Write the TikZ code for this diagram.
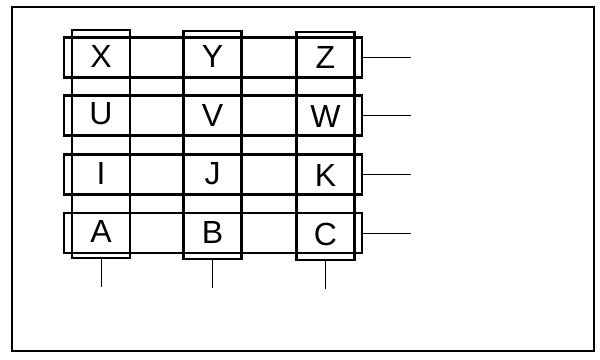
\documentclass[tikz,border=0pt]{standalone}
\usepackage{fontspec}
\setmainfont{Liberation Sans}
\begin{document}
\begin{tikzpicture}[x=0.5pt,y=-0.5pt,
  band/.style={draw, line width=1.1pt, rectangle, inner sep=0pt},
  rowband/.style={band, minimum width=149pt, minimum height=20pt},
  colband/.style={band, minimum width=29pt, minimum height=114pt},
  letter/.style={font=\fontsize{16}{16}\selectfont, inner sep=0pt},
  lead/.style={draw, line width=0.5pt}]
\useasboundingbox (0,0) rectangle (600,359);
\draw[line width=1pt] (12,7) rectangle (594,351);
% rows
\node[rowband] (r1) at (213,57.5) {};
\node[rowband] (r2) at (213,115.5) {};
\node[rowband] (r3) at (213,174.5) {};
\node[rowband] (r4) at (213,233) {};
% columns
\node[colband] (c1) at (101,144) {};
\node[colband] (c2) at (212.5,145) {};
\node[colband] (c3) at (325.5,146) {};
% letters
\node[letter] (X) at (101,56) {X};
\node[letter] (Y) at (212.5,56) {Y};
\node[letter] (Z) at (325.5,57) {Z};
\node[letter] (U) at (101,114) {U};
\node[letter] (V) at (212.5,115) {V};
\node[letter] (W) at (325.5,116) {W};
\node[letter] (I) at (101,173) {I};
\node[letter] (J) at (212.5,174) {J};
\node[letter] (K) at (325.5,175) {K};
\node[letter] (A) at (101,231) {A};
\node[letter] (B) at (212.5,232) {B};
\node[letter] (C) at (325.5,234) {C};
% leads
\coordinate (e1) at (411,57.5);
\coordinate (e2) at (411,115.5);
\coordinate (e3) at (411,174.5);
\coordinate (e4) at (411,233);
\draw[lead] (r1.east) -- (e1);
\draw[lead] (r2.east) -- (e2);
\draw[lead] (r3.east) -- (e3);
\draw[lead] (r4.east) -- (e4);
\coordinate (s1) at (101,287);
\coordinate (s2) at (212.5,288);
\coordinate (s3) at (325.5,289);
\draw[lead] (c1.south) -- (s1);
\draw[lead] (c2.south) -- (s2);
\draw[lead] (c3.south) -- (s3);
\end{tikzpicture}
\end{document}
